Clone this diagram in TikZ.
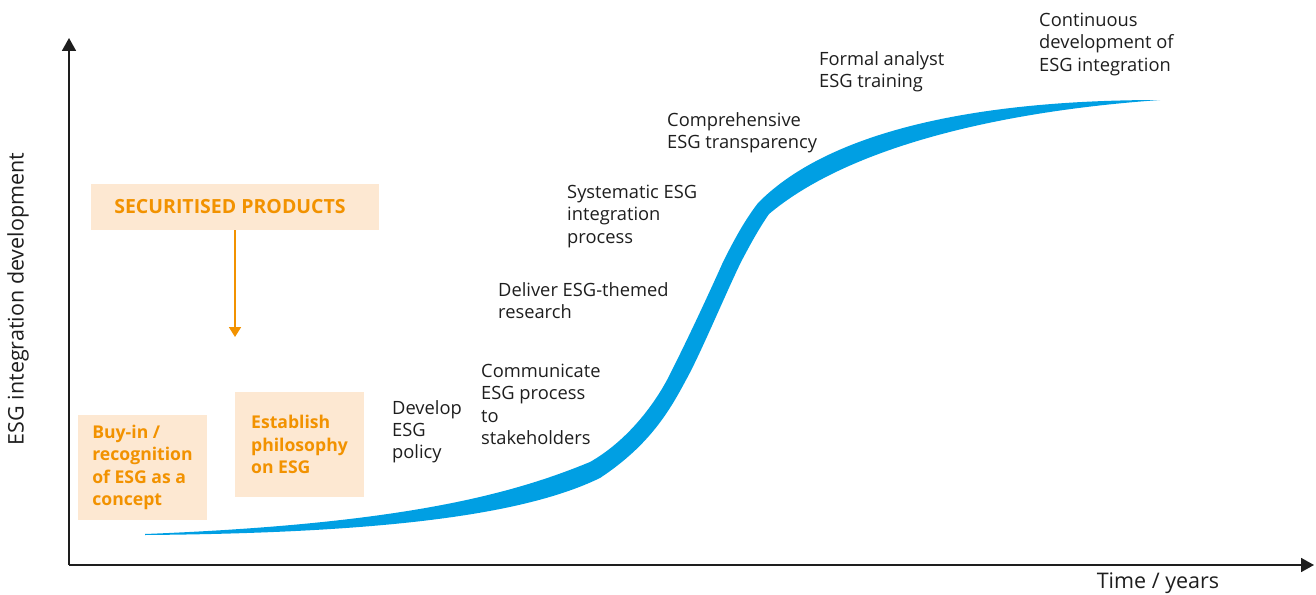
\documentclass[tikz,border=0pt]{standalone}
\usepackage{fontspec}
\setmainfont{Open Sans}
\usetikzlibrary{arrows.meta}
\definecolor{esgblue}{HTML}{009FE3}
\definecolor{esgorange}{HTML}{F29200}
\definecolor{esgpeach}{HTML}{FDE8D2}
\definecolor{esgtext}{HTML}{1E1E1E}
\begin{document}
\begin{tikzpicture}[x=1pt,y=-1pt,
  lbl/.style={font=\fontsize{18.3}{22.3}\selectfont, text=esgtext, align=left, inner sep=0pt, anchor=north west},
  obox/.style={fill=esgpeach, text=esgorange, font=\fontsize{17.6}{22.3}\selectfont\bfseries, align=left, inner sep=0pt},
  axis/.style={line width=1.8pt, draw=esgtext, -{Triangle[width=14pt,length=13pt]}}
]
\useasboundingbox (0,0) rectangle (1316,594);
% axes
\coordinate (O) at (69,565);
\coordinate (ytop) at (69,38);
\coordinate (xend) at (1314,565);
\draw[axis] (O) -- (ytop);
\draw[axis] (O) -- (xend);
\node[font=\fontsize{21.5}{24}\selectfont, text=esgtext, rotate=90] (ylab) at (18,299) {ESG integration development};
\node[font=\fontsize{21.5}{24}\selectfont, text=esgtext] (xlab) at (1158,583) {Time / years};
% S-curve band
\fill[esgblue] (145,534)
  .. controls (400,524) and (510,495) .. (590,462)
  .. controls (620,445) and (648,415) .. (667,380)
  .. controls (690,335) and (715,280) .. (723,262)
  .. controls (735,238) and (745,220) .. (758,203)
  .. controls (820,140) and (950,100) .. (1160,100)
  .. controls (990,112) and (845,150) .. (769,214)
  .. controls (758,230) and (750,245) .. (741,262)
  .. controls (725,295) and (700,355) .. (686,380)
  .. controls (670,410) and (650,445) .. (600,478)
  .. controls (530,512) and (400,533) .. (145,535) -- cycle;
% orange boxes
\node[obox, minimum width=288pt, minimum height=46pt, align=center, font=\fontsize{19.5}{22}\selectfont\bfseries] (sec) at (235,207) {SECURITISED PRODUCTS\hspace*{10pt}};
\coordinate (secend) at (235,337);
\draw[esgorange, line width=1.8pt, -{Triangle[width=12pt,length=10pt]}] (sec.south) -- (secend);
\node[obox, minimum width=129pt, minimum height=105pt] (buyin) at (142.5,467.5) {Buy-in /\\recognition\\of ESG as a\\concept};
\node[obox, minimum width=129pt, minimum height=105pt] (estab) at (299.5,444.5) {Establish\\philosophy\\on ESG};
% black labels
\node[lbl] (dev) at (392,400) {Develop\\ESG\\policy};
\node[lbl] (comm) at (481,364) {Communicate\\ESG process\\to\\stakeholders};
\node[lbl] (deliv) at (498,282) {Deliver ESG-themed\\research};
\node[lbl] (syst) at (567,185) {Systematic ESG\\integration\\process};
\node[lbl] (comp) at (667,112) {Comprehensive\\ESG transparency};
\node[lbl] (formal) at (819,51) {Formal analyst\\ESG training};
\node[lbl] (cont) at (1039,13) {Continuous\\development of\\ESG integration};
\end{tikzpicture}
\end{document}
